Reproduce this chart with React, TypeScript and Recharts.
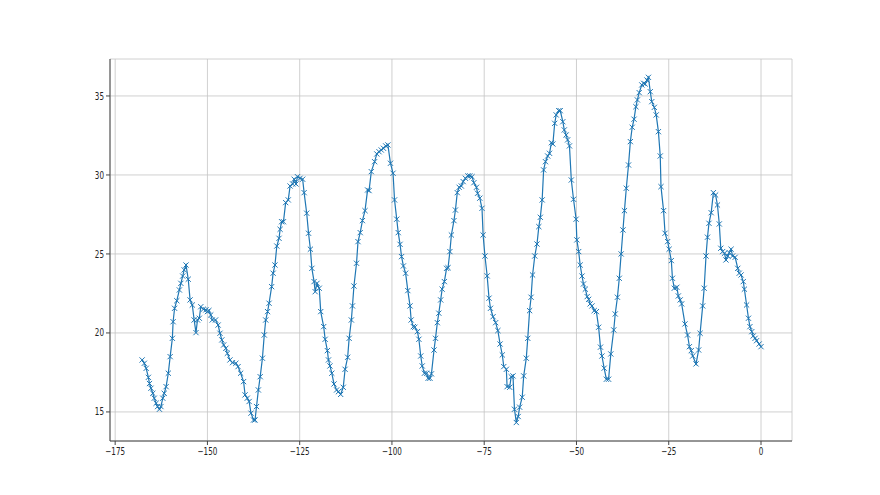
import { CartesianGrid, Line, LineChart, XAxis, YAxis } from 'recharts';

// hours (x) and readings (y)
const hours = [
  -167.7, -167.1, -166.6, -166.0, -165.7, -165.3, -164.8, -164.4, -163.9, -163.5,
  -163.0, -162.6, -162.1, -161.7, -161.2, -160.6, -160.1, -159.5, -159.3, -158.9,
  -158.3, -157.6, -157.2, -156.7, -156.3, -155.8, -155.2, -154.7, -154.1, -153.6,
  -153.1, -152.7, -152.2, -151.8, -151.1, -150.4, -150.0, -149.6, -149.1, -148.7,
  -147.8, -147.1, -146.6, -146.1, -145.6, -145.0, -144.6, -143.9, -143.2, -142.3,
  -141.7, -141.0, -140.2, -139.8, -139.2, -138.7, -138.2, -137.5, -137.1, -136.7,
  -136.2, -135.7, -135.1, -134.6, -134.2, -133.7, -133.3, -132.6, -132.2, -131.7,
  -131.2, -130.6, -130.3, -129.9, -129.4, -128.8, -128.1, -127.6, -126.9, -126.5,
  -126.0, -125.6, -124.9, -124.2, -123.8, -123.1, -122.6, -122.1, -121.7, -121.1,
  -120.8, -120.3, -119.7, -119.3, -118.5, -118.1, -117.5, -117.2, -116.8, -116.3,
  -115.7, -115.0, -114.5, -113.9, -113.2, -112.7, -112.0, -111.6, -111.0, -110.7,
  -110.3, -109.6, -109.2, -108.6, -108.0, -107.3, -106.6, -106.2, -105.6, -104.7,
  -104.1, -103.5, -102.9, -102.3, -101.7, -101.1, -100.4, -99.7, -99.3, -98.7,
  -98.3, -97.8, -97.4, -96.9, -96.3, -95.7, -95.1, -94.8, -94.2, -93.8,
  -93.1, -92.7, -92.2, -91.8, -91.2, -90.6, -90.2, -89.7, -89.3, -88.6,
  -88.2, -87.7, -87.3, -86.8, -86.4, -85.8, -85.2, -84.8, -84.3, -83.9,
  -83.2, -82.8, -82.3, -81.8, -81.2, -80.7, -80.1, -79.4, -78.9, -78.3,
  -77.8, -77.1, -76.8, -76.2, -75.6, -75.3, -74.8, -74.2, -73.7, -73.3,
  -72.6, -71.9, -71.3, -70.7, -70.1, -69.7, -69.0, -68.8, -68.1, -67.7,
  -67.2, -66.8, -66.3, -65.8, -65.4, -64.7, -64.3, -63.6, -63.2, -62.7,
  -62.3, -61.9, -61.3, -60.7, -60.2, -59.8, -59.3, -58.9, -58.4, -57.8,
  -57.3, -56.8, -56.4, -55.9, -55.5, -54.8, -54.4, -53.7, -53.3, -52.8,
  -52.4, -51.9, -51.4, -50.8, -50.1, -49.9, -49.4, -49.0, -48.5, -48.1,
  -47.6, -47.1, -46.7, -46.3, -45.8, -45.2, -44.6, -44.0, -43.5, -43.1,
  -42.5, -41.9, -41.3, -40.7, -39.9, -39.5, -38.9, -38.4, -37.9, -37.4,
  -37.0, -36.5, -35.9, -35.4, -34.9, -34.4, -33.9, -33.5, -33.0, -32.3,
  -31.8, -31.4, -30.9, -30.5, -30.0, -29.6, -28.9, -28.4, -27.8, -27.3,
  -27.1, -26.4, -26.0, -25.3, -24.9, -24.3, -24.0, -23.5, -22.8, -22.4,
  -21.9, -21.5, -20.6, -19.9, -19.4, -18.9, -18.5, -17.6, -16.9, -16.5,
  -15.8, -15.4, -14.9, -14.5, -14.1, -13.5, -12.9, -12.3, -11.8, -11.3,
  -10.9, -10.4, -9.9, -9.5, -9.0, -8.6, -8.1, -7.7, -7.0, -6.3,
  -5.9, -5.4, -4.8, -4.5, -3.9, -3.4, -3.0, -2.5, -2.1, -1.6,
  -1.2, -0.5, 0,
];

const readings = [
  18.29, 18.08, 17.76, 17.19, 16.8, 16.5, 16.18, 15.87, 15.55, 15.34,
  15.17, 15.34, 15.87, 16.18, 16.6, 17.45, 18.5, 19.66, 20.71, 21.56,
  22.04, 22.72, 23.14, 23.6, 23.99, 24.3, 23.4, 22.09, 21.77, 20.82,
  20.02, 20.82, 20.93, 21.66, 21.5, 21.46, 21.35, 21.42, 21.14, 20.82,
  20.82, 20.5, 19.98, 19.56, 19.24, 19.03, 18.71, 18.29, 18.12, 18.08,
  17.87, 17.45, 16.92, 16.08, 15.87, 15.66, 14.92, 14.49, 14.49, 15.34,
  16.39, 17.23, 18.4, 19.87, 20.82, 21.35, 21.88, 22.93, 23.78, 24.3,
  25.5, 25.99, 26.56, 27.04, 27.04, 28.25, 28.42, 29.3, 29.43, 29.73,
  29.43, 29.89, 29.79, 29.73, 28.88, 27.58, 26.31, 25.3, 24.09, 23.25,
  22.61, 23.14, 22.83, 21.35, 20.4, 19.6, 18.88, 18.29, 17.91, 17.45,
  16.77, 16.39, 16.28, 16.11, 16.56, 17.7, 18.46, 19.66, 20.82, 21.71,
  22.97, 24.41, 25.78, 26.35, 27.11, 27.74, 29.05, 29.01, 30.21, 30.84,
  31.33, 31.47, 31.58, 31.69, 31.84, 31.9, 30.74, 30.11, 28.42, 27.2,
  26.35, 25.61, 24.83, 24.24, 23.78, 22.68, 21.71, 20.82, 20.4, 20.36,
  20.08, 19.6, 18.54, 17.91, 17.45, 17.45, 17.13, 17.13, 17.41, 18.92,
  19.66, 20.65, 21.25, 22.09, 22.77, 23.25, 24.09, 24.13, 25.15, 26.2,
  27.11, 27.78, 28.88, 29.22, 29.3, 29.58, 29.79, 29.94, 29.94, 29.89,
  29.51, 29.22, 28.84, 28.53, 27.89, 26.2, 24.87, 23.61, 22.2, 21.56,
  21.03, 20.65, 20.15, 19.3, 18.61, 17.87, 17.7, 16.6, 16.56, 17.23,
  17.28, 15.17, 14.33, 14.71, 15.3, 15.93, 17.28, 18.4, 19.66, 21.41,
  22.26, 23.67, 24.87, 25.63, 26.73, 27.32, 28.42, 30.32, 30.84, 31.2,
  31.37, 32.04, 31.96, 33.27, 33.8, 34.07, 34.07, 33.37, 32.85, 32.53,
  32.22, 31.84, 29.68, 28.46, 27.2, 25.89, 25.15, 24.3, 23.6, 23.1,
  22.77, 22.3, 22.13, 21.84, 21.71, 21.41, 21.35, 20.36, 19.1, 18.54,
  17.77, 17.07, 17.07, 18.67, 20.19, 21.2, 22.26, 23.46, 25.0, 26.52,
  27.74, 29.16, 30.63, 32.11, 33.02, 33.53, 34.32, 34.75, 35.21, 35.7,
  35.8, 35.76, 36.01, 36.18, 35.27, 34.64, 34.28, 33.8, 32.74, 31.2,
  29.26, 27.74, 26.31, 25.78, 25.3, 24.58, 23.46, 22.83, 22.89, 22.34,
  22.09, 21.84, 20.57, 19.87, 19.13, 18.88, 18.54, 18.04, 18.92, 19.98,
  21.71, 22.83, 24.87, 26.06, 26.94, 27.61, 28.88, 28.73, 28.1, 26.9,
  25.36, 25.15, 25.04, 24.62, 24.87, 25.08, 25.3, 24.87, 24.79, 24.09,
  23.78, 23.67, 23.25, 22.77, 21.77, 20.93, 20.4, 20.08, 19.81, 19.66,
  19.51, 19.3, 19.13,
];

const xTicks = [-175, -150, -125, -100, -75, -50, -25, 0];
const yTicks = [15, 20, 25, 30, 35];

const data = hours.map((h, i) => ({ h, v: readings[i] }));

const BLUE = '#1f77b4';
const SPINE = '#444';

// matplotlib-style minus sign
const fmt = (v: number) => String(v).replace('-', '\u2212');

// labels in the reference are squeezed horizontally
const XTick = ({ x, y, payload }: any) => (
  <g transform={`translate(${x},${y + 1})`}>
    <text
      transform='scale(0.72,1)'
      textAnchor='middle'
      dy='0.71em'
      fontSize={10}
      fontFamily='DejaVu Sans'
      fill='#222'
    >
      {fmt(payload.value)}
    </text>
  </g>
);

const YTick = ({ x, y, payload }: any) => (
  <g transform={`translate(${x},${y})`}>
    <text
      transform='scale(0.72,1)'
      textAnchor='end'
      dy='0.355em'
      fontSize={10}
      fontFamily='DejaVu Sans'
      fill='#222'
    >
      {fmt(payload.value)}
    </text>
  </g>
);

const Cross = (props: any) => {
  const { cx, cy, index } = props;
  if (cx == null || cy == null) return <g key={index} />;
  const r = 2.6;
  return (
    <path
      key={index}
      d={`M${cx - r},${cy - r}L${cx + r},${cy + r}M${cx - r},${cy + r}L${cx + r},${cy - r}`}
      stroke={BLUE}
      strokeWidth={1}
      fill='none'
    />
  );
};

export default function App() {
  return (
    <LineChart
      width={872}
      height={487}
      data={data}
      margin={{ top: 51, right: 88, left: 42, bottom: 24 }}
    >
      <CartesianGrid stroke='#c4c4c4' strokeWidth={0.8} />
      <XAxis
        dataKey='h'
        type='number'
        domain={[-176.4, 8.4]}
        ticks={xTicks}
        allowDataOverflow
        height={30}
        tick={<XTick />}
        tickSize={4}
        tickLine={{ stroke: SPINE }}
        axisLine={{ stroke: SPINE }}
      />
      <XAxis
        xAxisId='top'
        orientation='top'
        type='number'
        domain={[-176.4, 8.4]}
        height={0}
        tick={false}
        tickLine={false}
        axisLine={{ stroke: SPINE }}
      />
      <YAxis
        type='number'
        domain={[13.16, 37.34]}
        ticks={yTicks}
        allowDataOverflow
        width={60}
        tick={<YTick />}
        tickSize={4}
        tickLine={{ stroke: SPINE }}
        axisLine={{ stroke: SPINE }}
      />
      <YAxis
        yAxisId='right'
        orientation='right'
        type='number'
        domain={[13.16, 37.34]}
        width={0}
        tick={false}
        tickLine={false}
        axisLine={{ stroke: SPINE }}
      />
      <Line
        dataKey='v'
        type='linear'
        stroke={BLUE}
        strokeWidth={1.2}
        dot={Cross}
        activeDot={false}
        isAnimationActive={false}
      />
    </LineChart>
  );
}
